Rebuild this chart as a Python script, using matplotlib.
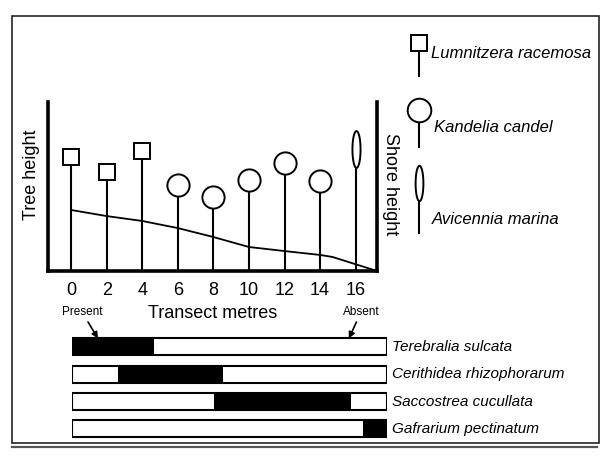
import numpy as np
import matplotlib
matplotlib.use("Agg")
import matplotlib.pyplot as plt
from matplotlib.path import Path
from matplotlib.patches import Rectangle
from matplotlib.lines import Line2D

plt.rcParams['font.family'] = ['Liberation Sans', 'DejaVu Sans']

# transect stations (metres) and tree heights / species
stations = [0, 2, 4, 6, 8, 10, 12, 14, 16]
tree_height = [6.75, 5.86, 7.1, 5.09, 4.38, 5.38, 6.39, 5.33, 7.22]
tree_species = ['Lumnitzera racemosa', 'Lumnitzera racemosa', 'Lumnitzera racemosa',
                'Kandelia candel', 'Kandelia candel', 'Kandelia candel',
                'Kandelia candel', 'Kandelia candel', 'Avicennia marina']

# shore profile
shore_x = [0, 2, 4, 6, 8, 10, 12, 14, 14.7, 17.2]
shore_y = [3.61, 3.25, 2.96, 2.54, 2.01, 1.42, 1.18, 0.95, 0.83, 0.0]

# molluscs: stretch of transect where present (metres)
molluscs = ['Terebralia sulcata', 'Cerithidea rhizophorarum',
            'Saccostrea cucullata', 'Gafrarium pectinatum']
present_from = [0.0, 2.6, 8.0, 16.35]
present_to = [4.6, 8.5, 15.7, 17.7]
transect_len = 17.7

W, H = 611, 458
def fx(x):
    return x / W
def fy(y):
    return 1 - y / H

# ellipse marker for Avicennia
t = np.linspace(0, 2 * np.pi, 60)
ell = Path(np.column_stack([0.22 * np.cos(t), np.sin(t)]), closed=True)

marker_style = {
    'Lumnitzera racemosa': dict(marker='s', ms=11),
    'Kandelia candel': dict(marker='o', ms=16),
    'Avicennia marina': dict(marker=ell, ms=26.5),
}

fig = plt.figure(figsize=(W / 100, H / 100), dpi=100)

# outer frame
fig.add_artist(Rectangle((fx(12), fy(443)), fx(599) - fx(12), fy(16) - fy(443),
                         transform=fig.transFigure, fill=False, lw=1.2, ec='#222222'))
fig.add_artist(Line2D([fx(12), fx(597)], [fy(447), fy(447)],
                      transform=fig.transFigure, lw=1.6, color='#555555'))

# main profile panel
ax = fig.add_axes([fx(48), fy(271), fx(377) - fx(48), fy(102) - fy(271)])
ax.set_xlim(-1.3, 17.2)
ax.set_ylim(0, 10)
ax.spines['top'].set_visible(False)
for s in ['left', 'right', 'bottom']:
    ax.spines[s].set_linewidth(2.6)
ax.set_yticks([])
ax.set_xticks(stations)
ax.set_xticklabels([str(s) for s in stations])
ax.tick_params(axis='x', length=0, pad=8, labelsize=13)
ax.set_xlabel('Transect metres', fontsize=13, labelpad=4)

ax.vlines(stations, 0, tree_height, color='black', lw=1.5, zorder=2)
for x, h, sp in zip(stations, tree_height, tree_species):
    ax.plot([x], [h], linestyle='none', mfc='white', mec='black', mew=1.4,
            zorder=4, **marker_style[sp])
ax.plot(shore_x, shore_y, color='black', lw=1.3, zorder=3, clip_on=False)

fig.text(fx(32), fy(175), 'Tree height', rotation=90, fontsize=13,
         ha='center', va='center')
fig.text(fx(391), fy(184), 'Shore height', rotation=270, fontsize=13,
         ha='center', va='center')

# species key
key = [('Lumnitzera racemosa', 43, 76, 54, 431, 12),
       ('Kandelia candel', 110, 147, 128, 434, 17),
       ('Avicennia marina', 183, 233, 219, 432, 25.5)]
for name, my, stem_end, ty, tx, ms in key:
    fig.add_artist(Line2D([fx(419), fx(419)], [fy(my), fy(stem_end)],
                          transform=fig.transFigure, color='black', lw=1.5))
    st = dict(marker_style[name])
    st['ms'] = ms
    fig.add_artist(Line2D([fx(419)], [fy(my)], transform=fig.transFigure,
                          linestyle='none', mfc='white', mec='black', mew=1.4, **st))
    fig.text(fx(tx), fy(ty), name, fontsize=12, style='italic', va='center')

# mollusc presence bars
bx = fig.add_axes([fx(72), fy(445), fx(387) - fx(72), fy(330) - fy(445)])
bx.set_xlim(0, transect_len)
bx.set_ylim(3.59, -0.62)
bx.axis('off')
rows = np.arange(len(molluscs))
bx.barh(rows, [transect_len] * len(rows), height=0.62, color='white',
        edgecolor='none')
bx.barh(rows, np.array(present_to) - np.array(present_from), left=present_from,
        height=0.62, color='black', edgecolor='none')
bx.barh(rows, [transect_len] * len(rows), height=0.62, fill=False,
        edgecolor='black', lw=1.5)
for i, name in enumerate(molluscs):
    bx.text(transect_len + 0.3, i, name, fontsize=11, style='italic', va='center')

arrow = dict(arrowstyle='-|>', color='black', lw=1.2, mutation_scale=9,
             shrinkA=1, shrinkB=0)
bx.annotate('Present', xy=(1.46, -0.31), xytext=(fx(82), fy(312)),
            textcoords='figure fraction', ha='center', va='center', fontsize=8.5,
            arrowprops=arrow, annotation_clip=False)
bx.annotate('Absent', xy=(15.56, -0.31), xytext=(fx(361), fy(312)),
            textcoords='figure fraction', ha='center', va='center', fontsize=8.5,
            arrowprops=arrow, annotation_clip=False)

fig.savefig('out.png', dpi=100)
